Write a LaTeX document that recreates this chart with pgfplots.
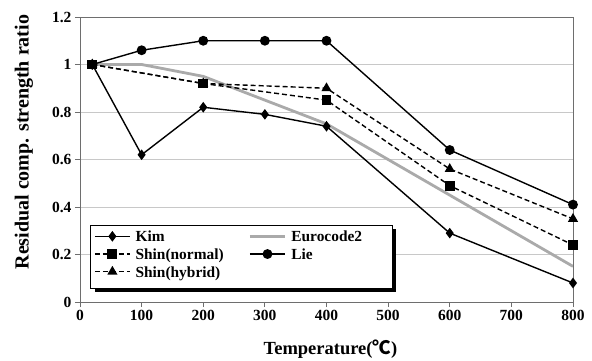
\documentclass[border=0pt]{standalone}
\usepackage{pgfplots}
\pgfplotsset{compat=1.18}
\usepackage{fontspec}
\setmainfont{Liberation Serif}
\newfontfamily\cjk{Noto Sans CJK SC}

\definecolor{eurogray}{RGB}{170,170,170}
\definecolor{gridgray}{RGB}{200,200,200}
\definecolor{framegray}{RGB}{110,110,110}

% fixed-width legend texts keep the two legend columns in place
\newcommand{\legA}[1]{\makebox[110pt][l]{\hspace{3pt}#1}}
\newcommand{\legB}[1]{\makebox[70pt][l]{\hspace{3pt}#1}}

\begin{document}
\begin{tikzpicture}[x=1pt,y=1pt]
\useasboundingbox (0,0) rectangle (592,360);
\begin{axis}[
  at={(80pt,58pt)}, anchor=south west,
  scale only axis, width=493pt, height=285pt,
  xmin=0, xmax=800, ymin=0, ymax=1.2,
  xtick={0,100,...,800},
  ytick={0,0.2,0.4,0.6,0.8,1,1.2},
  ymajorgrids, grid style={gridgray, line width=0.8pt},
  axis line style={framegray, line width=0.9pt},
  tick style={framegray, line width=0.9pt},
  tick align=outside, major tick length=5pt,
  xtick pos=bottom, ytick pos=left,
  /pgf/number format/assume math mode=true,
  tick label style={font=\fontsize{15.5}{17}\selectfont\bfseries},
  xlabel={Temperature({\cjk\bfseries ℃})},
  ylabel={Residual comp. strength ratio},
  xlabel style={font=\fontsize{18.5}{21}\selectfont\bfseries,
    at={(axis description cs:0.508,-0.165)}, anchor=center},
  ylabel style={font=\fontsize{20}{22}\selectfont\bfseries,
    at={(axis description cs:-0.114,0.561)}, anchor=center},
  legend columns=2,
  legend cell align=left,
  legend style={
    at={(axis description cs:0.0223,0.270)}, anchor=north west,
    draw=none, fill=none,
    font=\fontsize{15.4}{17}\selectfont\bfseries,
    /tikz/every even column/.append style={column sep=4pt},
    row sep=1.5pt, inner xsep=3pt, inner ysep=4pt,
  },
  legend image code/.code={
    \draw[mark repeat=2, mark phase=2, #1] plot coordinates {(0pt,1pt) (17.5pt,1pt) (35pt,1pt)};
  },
]
\addplot[black, line width=1.4pt, mark=diamond*, mark size=4.2pt, mark options={solid}]
  coordinates {(20,1.0) (100,0.62) (200,0.82) (300,0.79) (400,0.74) (600,0.29) (800,0.08)};
\addlegendentry{\legA{Kim}}
\addplot[eurogray, line width=2.8pt, no marks]
  coordinates {(20,1.0) (100,1.0) (200,0.95) (300,0.85) (400,0.75) (600,0.45) (800,0.15)};
\addlegendentry{\legB{Eurocode2}}
\addplot[black, line width=1.4pt, dash pattern=on 5pt off 3pt, mark=square*, mark size=4.2pt, mark options={solid}]
  coordinates {(20,1.0) (200,0.92) (400,0.85) (600,0.49) (800,0.24)};
\addlegendentry{\legA{Shin(normal)}}
\addplot[black, line width=1.4pt, mark=*, mark size=4.2pt, mark options={solid}]
  coordinates {(20,1.0) (100,1.06) (200,1.10) (300,1.10) (400,1.10) (600,0.64) (800,0.41)};
\addlegendentry{\legB{Lie}}
\addplot[black, line width=1.4pt, dash pattern=on 5pt off 3pt, mark=triangle*, mark size=4.5pt, mark options={solid}]
  coordinates {(20,1.0) (200,0.92) (400,0.90) (600,0.56) (800,0.35)};
\addlegendentry{\legA{Shin(hybrid)}}
% legend frame with its solid black shadow
\fill[black] ([xshift=4pt,yshift=-4pt]axis description cs:0.0223,0.049)
  rectangle ([xshift=4pt,yshift=-4pt]axis description cs:0.633,0.270);
\draw[black, line width=1pt, fill=white] (axis description cs:0.0223,0.049)
  rectangle (axis description cs:0.633,0.270);
\end{axis}
\end{tikzpicture}
\end{document}
